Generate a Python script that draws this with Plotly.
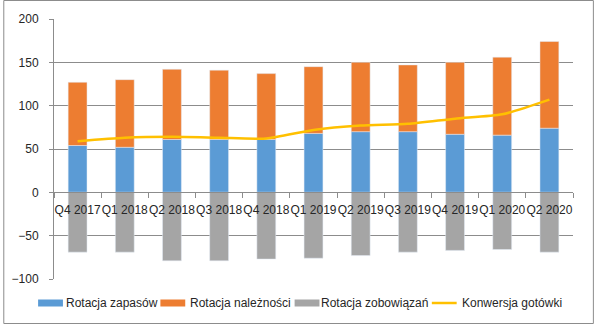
import plotly.graph_objects as go

categories = ["Q4 2017", "Q1 2018", "Q2 2018", "Q3 2018", "Q4 2018", "Q1 2019",
              "Q2 2019", "Q3 2019", "Q4 2019", "Q1 2020", "Q2 2020"]
zapasy = [54, 52, 61, 61, 61, 68, 70, 70, 67, 66, 74]
naleznosci = [73, 78, 81, 80, 76, 77, 80, 77, 83, 90, 100]
zobowiazania = [-69, -69, -79, -79, -77, -76, -73, -69, -67, -66, -69]
konwersja = [59, 63, 64, 63, 62, 72, 77, 79, 85, 90, 107]

series_names = ["Rotacja zapasów", "Rotacja należności", "Rotacja zobowiązań", "Konwersja gotówki"]
series_colors = ["#5B9BD5", "#ED7D31", "#A5A5A5", "#FFC000"]

W, H = 594, 324
L, R, T, B = 51, 21, 19, 45
pw, ph = W - L - R, H - T - B

font = "Liberation Sans, Arial, sans-serif"
txt = "#262626"
grid = "#8c8c8c"


def px_x(x):
    return (x - L) / pw


def px_y(y):
    return (H - B - y) / ph


fig = go.Figure()
for vals, nm, col in zip([zapasy, naleznosci, zobowiazania], series_names[:3], series_colors[:3]):
    fig.add_trace(go.Bar(x=categories, y=vals, name=nm, marker_color=col))
fig.add_trace(go.Scatter(x=categories, y=konwersja, name=series_names[3], mode="lines",
                         line=dict(color=series_colors[3], width=2.5, shape="spline", smoothing=0.6)))

zero_pos = (0 - (-100)) / 300

# custom legend (swatch left x, text left x) in pixels
legend_items = [(35, 62), (158, 187), (293, 319), (431, 460)]
leg_y = 303
shapes = [dict(type="rect", xref="paper", yref="paper",
               x0=px_x(0.5), x1=px_x(W - 0.5), y0=px_y(H - 0.5), y1=px_y(0.5),
               line=dict(color=grid, width=1), fillcolor="rgba(0,0,0,0)", layer="below")]
annotations = []
for i, (sx, tx) in enumerate(legend_items):
    if i < 3:
        shapes.append(dict(type="rect", xref="paper", yref="paper",
                           x0=px_x(sx), x1=px_x(sx + 25), y0=px_y(leg_y + 3.5), y1=px_y(leg_y - 3.5),
                           line=dict(width=0), fillcolor=series_colors[i]))
    else:
        shapes.append(dict(type="line", xref="paper", yref="paper",
                           x0=px_x(sx), x1=px_x(sx + 25), y0=px_y(leg_y), y1=px_y(leg_y),
                           line=dict(width=2.5, color=series_colors[i])))
    annotations.append(dict(text=series_names[i], xref="paper", yref="paper",
                            x=px_x(tx), y=px_y(leg_y), xanchor="left", yanchor="middle",
                            showarrow=False, borderpad=0,
                            font=dict(family=font, size=12, color=txt)))

fig.update_layout(
    width=W, height=H,
    margin=dict(l=L, r=R, t=T, b=B),
    barmode="relative", bargap=0.6,
    paper_bgcolor="white", plot_bgcolor="white",
    font=dict(family=font, size=12, color=txt),
    showlegend=False,
    xaxis=dict(type="category", anchor="free", position=zero_pos, showline=True,
               linecolor=grid, linewidth=1, ticks="outside", ticklen=5, tickcolor=grid,
               tickson="boundaries", showgrid=False, tickangle=0,
               tickfont=dict(size=12, color=txt), ticklabelstandoff=6),
    yaxis=dict(range=[-100, 200], dtick=50, showgrid=True, gridcolor=grid, gridwidth=1,
               showline=True, linecolor=grid, linewidth=1, ticks="outside", ticklen=4,
               tickcolor=grid, zeroline=False, tickfont=dict(size=12, color=txt),
               ticklabelstandoff=8),
    shapes=shapes,
    annotations=annotations,
)

fig.write_html("out.html")
